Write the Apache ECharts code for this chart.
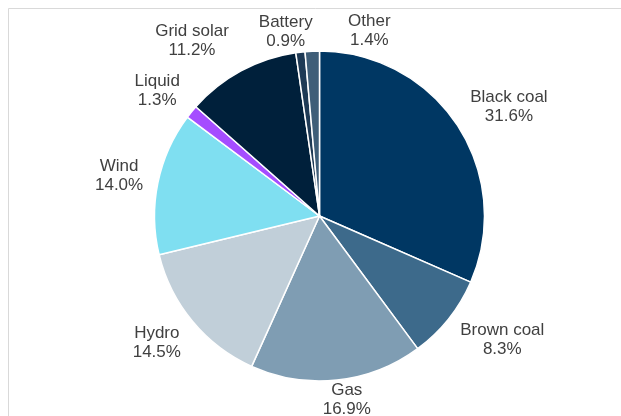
<!DOCTYPE html>
<html>
<head>
<meta charset="utf-8">
<script src="https://cdn.jsdelivr.net/npm/echarts@6/dist/echarts.min.js"></script>
<style>
  html, body { margin: 0; padding: 0; background: #ffffff; }
  #chart { width: 621px; height: 416px; }
</style>
</head>
<body>
<div id="chart"></div>
<script>
// Generation mix by fuel type (% share)
const categories = ['Black coal', 'Brown coal', 'Gas', 'Hydro', 'Wind', 'Liquid', 'Grid solar', 'Battery', 'Other'];
const shares = [31.6, 8.3, 16.9, 14.5, 14.0, 1.3, 11.2, 0.9, 1.4];
const sliceColors = ['#003763', '#3d6a8b', '#7f9db3', '#c1cfd9', '#7fdff1', '#a54dff', '#00203b', '#1e3a55', '#3f5e78'];

// Hand-placed offsets (px) for labels in crowded spots
const labelNudge = { 'Gas': [-16, -14], 'Grid solar': [-5, 0], 'Battery': [14, 13], 'Other': [79, 14] };

const CX = 319.5, CY = 216, R = 165, GAP = 15;
const total = shares.reduce((a, b) => a + b, 0);
const midAngles = [];
let acc = 0;
shares.forEach(v => { midAngles.push((acc + v / 2) / total * 2 * Math.PI); acc += v; });

const chart = echarts.init(document.getElementById('chart'), null, { renderer: 'canvas' });
chart.setOption({
  backgroundColor: '#ffffff',
  animation: false,
  graphic: [{
    type: 'rect',
    z: 0,
    shape: { x: 8.5, y: 8.5, width: 700, height: 500 },
    style: { fill: 'none', stroke: '#d9d9d9', lineWidth: 1 }
  }],
  series: [{
    type: 'pie',
    center: [CX, CY],
    radius: R,
    startAngle: 90,
    clockwise: true,
    avoidLabelOverlap: false,
    itemStyle: { borderColor: '#ffffff', borderWidth: 1.5 },
    label: {
      show: true,
      position: 'outside',
      fontFamily: '"Liberation Sans", Arial, sans-serif',
      fontSize: 17,
      lineHeight: 19,
      color: '#404040',
      align: 'center',
      formatter: p => p.name + '\n' + p.value.toFixed(1) + '%'
    },
    labelLine: { show: false },
    labelLayout: params => {
      const i = params.dataIndex;
      const a = midAngles[i];
      const ux = Math.sin(a), uy = -Math.cos(a);
      const w = params.labelRect.width, h = params.labelRect.height;
      let x = CX + (R + GAP) * ux + Math.sign(ux) * w / 2;
      let y = CY + (R + GAP) * uy + uy * h / 2;
      const n = labelNudge[categories[i]];
      if (n) { x += n[0]; y += n[1]; }
      return { x: x, y: y, align: 'center', verticalAlign: 'middle' };
    },
    emphasis: { disabled: true },
    data: categories.map((name, i) => ({
      name: name,
      value: shares[i],
      itemStyle: { color: sliceColors[i] }
    }))
  }]
});
</script>
</body>
</html>
